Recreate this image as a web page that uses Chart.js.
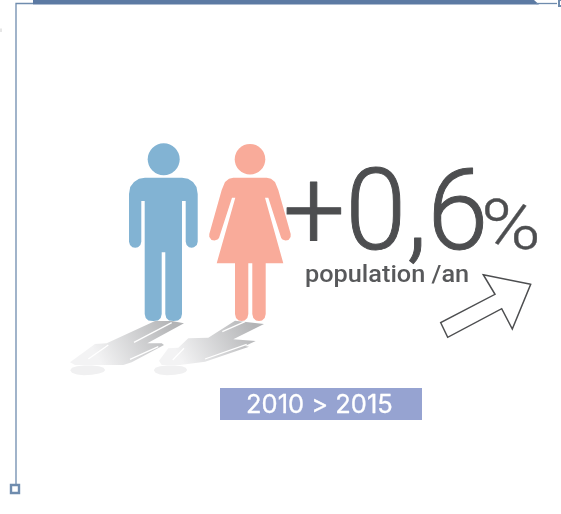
<!DOCTYPE html>
<html>
<head>
<meta charset="utf-8">
<title>Population</title>
<script src="https://cdn.jsdelivr.net/npm/chart.js@4"></script>
<style>
  html, body { margin: 0; padding: 0; background: #fff; }
  canvas { display: block; }
</style>
</head>
<body>
<canvas id="chart" width="561" height="514"></canvas>
<script>
// Texts
const statValue = '+0,6';
const statUnit = '%';
const statLabel = 'population /an';
const periodLabel = '2010 > 2015';

// Outlines, in the units of the chart's two axes
const manHead = [{ x: 163.7, y: 159.3 }];
const womanHead = [{ x: 250, y: 159.3 }];

const manBody = [
  [145, 177.7], [182, 177.7], [188, 178.8], [193, 182], [196.5, 187], [197.7, 194],
  [197.7, 241.7], [196.8, 245], [194, 247.3], [191.7, 247.7], [189, 247.3], [186.6, 245], [185.7, 241.7],
  [185.7, 201], [182, 201], [182, 314], [181, 318], [178, 320.5], [173.6, 321], [169, 320.5], [166.3, 318], [165.3, 314],
  [165.3, 252.3], [161.7, 252.3], [161.7, 314], [160.7, 318], [158, 320.5], [153.2, 321], [148.4, 320.5], [145.7, 318], [144.7, 314],
  [144.7, 201], [141.3, 201], [141.3, 241.7], [140.4, 245], [138, 247.3], [135.2, 247.7], [132.4, 247.3], [130, 245], [129, 241.7],
  [129, 194], [130.2, 187], [134, 182], [139, 178.8]
];

const womanBody = [
  [233.3, 177.7], [266.7, 177.7], [271, 178.8], [275, 182], [278.3, 190],
  [290.7, 234], [290.6, 237], [288.5, 240], [285.5, 240.6], [282.5, 239.5], [281.2, 238],
  [268.3, 197.7], [265, 197.7], [283.3, 263.3], [265.7, 263.3],
  [265.7, 314], [264.7, 318], [262, 320.5], [259, 321], [256, 320.5], [253.3, 318], [252.3, 314],
  [252.3, 263.3], [248.3, 263.3], [248.3, 314], [247.3, 318], [244.6, 320.5], [241.6, 321], [238.6, 320.5], [236, 318], [235, 314],
  [235, 263.3], [216.7, 263.3], [235.3, 197.7], [232, 197.7], [219, 238],
  [217.5, 239.5], [214.5, 240.6], [211.5, 240], [209.4, 237], [209.3, 234],
  [221.7, 190], [225, 182], [229, 178.8]
];

const manShadow = [
  [155, 321], [171.7, 321], [184, 323.3], [147.3, 343.3], [161.7, 343.3], [164, 345], [131.7, 362.3],
  [123.3, 365], [75, 365], [70, 362.3], [95, 344], [106.7, 343.3]
];
const manShadowGaps = [
  [[134, 342.3], [171.7, 322.7]],
  [[130, 359.3], [158.3, 346.7]],
  [[88.3, 359], [108.3, 345]]
];

const womanShadow = [
  [235, 320.7], [264, 324], [233.3, 339.3], [255.7, 341], [245, 346], [249, 346.7], [205, 361.7],
  [180, 365], [161.7, 365], [159, 360.7], [168.3, 348.3], [178.3, 347.7], [188.3, 338.3], [208.3, 337.7]
];
const womanShadowGaps = [
  [[222.3, 331.7], [245, 321.7]],
  [[205, 359], [246.7, 344.3]],
  [[172.7, 360], [184, 348.3]]
];

const manSpot = [
  [70.2, 370.3], [72, 367.8], [77, 366.2], [84, 365.4], [92, 365.4], [99, 366.2], [103.5, 367.8], [105.2, 370],
  [103.5, 372], [99, 373.6], [92, 374.8], [84, 375.3], [77, 374.6], [72, 372.8]
];
const womanSpot = [
  [153.8, 370.3], [155.5, 367.8], [160, 366.2], [167, 365.4], [175, 365.4], [182, 366.2], [185.7, 367.8], [187.2, 370],
  [185.7, 372], [182, 373.6], [175, 374.8], [167, 375.3], [160, 374.6], [155.5, 372.8]
];

const arrowShape = [
  [530.7, 284.3], [483.3, 274.7], [495, 294.3], [440.7, 322.7], [447.7, 337.3], [501.7, 308.7], [512.3, 329]
];

const periodBand = [[220, 388], [422, 388], [422, 420], [220, 420]];
const topBand = [[33, 0], [534, 0], [539, 4.6], [33, 4.6]];
const edgeSmudge = [[0, 28.5], [2, 28.5], [2, 32], [0, 32]];
const frameLines = [
  [[16, 484], [16, 3.5], [33, 3.5]],
  [[536, 3.5], [557, 3.5]]
];
const cornerSquares = [
  [[11, 485], [19, 485], [19, 493], [11, 493]],
  [[559, 0], [559, 6], [564, 6], [564, 0]]
];

const toPoints = list => list.map(p => ({ x: p[0], y: p[1] }));

function shape(list, color) {
  return {
    data: toPoints(list),
    fill: 'shape',
    backgroundColor: color,
    borderColor: 'transparent',
    borderWidth: 0,
    pointRadius: 0
  };
}

function stroke(list, color, width, closed) {
  const data = toPoints(closed ? list.concat([list[0], list[1]]) : list);
  return {
    data: data,
    fill: closed === 'white' ? 'shape' : false,
    backgroundColor: '#fff',
    borderColor: color,
    borderWidth: width,
    borderJoinStyle: 'miter',
    pointRadius: 0
  };
}

function head(point, radius, color) {
  return {
    data: point,
    showLine: false,
    pointRadius: radius,
    pointBackgroundColor: color,
    pointBorderWidth: 0
  };
}

// Grey fade from the feet toward the far end of the shadow
function shadowFill(x0, y0, x1, y1) {
  return context => {
    const { ctx, scales, chartArea } = context.chart;
    if (!chartArea) return '#d0d0d2';
    const px0 = scales.x.getPixelForValue(x0);
    const py0 = scales.y.getPixelForValue(y0);
    const px1 = scales.x.getPixelForValue(x1);
    const py1 = scales.y.getPixelForValue(y1);
    if (!isFinite(px0 + py0 + px1 + py1)) return '#d0d0d2';
    const g = ctx.createLinearGradient(px0, py0, px1, py1);
    g.addColorStop(0, '#b3b4b6');
    g.addColorStop(1, '#f3f3f4');
    return g;
  };
}

const white = '#ffffff';
const frameBlue = '#6f8cae';
const layers = [
  shape(topBand, '#5c7aa3'),
  shape(edgeSmudge, '#e6e6e6'),
  stroke(frameLines[0], frameBlue, 1.3),
  stroke(frameLines[1], frameBlue, 1.3),
  stroke(cornerSquares[0], frameBlue, 2.4, 'white'),
  stroke(cornerSquares[1], frameBlue, 2, 'white'),
  shape(manSpot, '#f0f0f1'),
  shape(womanSpot, '#f0f0f1'),
  shape(manShadow, shadowFill(172, 322, 100, 362)),
  stroke(manShadowGaps[0], white, 1.3),
  stroke(manShadowGaps[1], white, 1.3),
  stroke(manShadowGaps[2], white, 1.3),
  shape(womanShadow, shadowFill(252, 322, 182, 362)),
  stroke(womanShadowGaps[0], white, 1.3),
  stroke(womanShadowGaps[1], white, 1.3),
  stroke(womanShadowGaps[2], white, 1.3),
  shape(manBody, '#82b3d3'),
  head(manHead, 16, '#82b3d3'),
  shape(womanBody, '#f9ab9a'),
  head(womanHead, 15.3, '#f9ab9a'),
  stroke(arrowShape, '#4d4e50', 1.5, 'white'),
  shape(periodBand, '#96a3d1')
];

// Texts are placed through the same scales as the marks
const textPlugin = {
  id: 'texts',
  afterDatasetsDraw(chart) {
    const { ctx, scales } = chart;
    const put = (text, x, y, font, color, scaleX, weight) => {
      ctx.save();
      ctx.translate(scales.x.getPixelForValue(x), scales.y.getPixelForValue(y));
      ctx.scale(scaleX, 1);
      ctx.font = font;
      ctx.fillStyle = color;
      ctx.strokeStyle = color;
      ctx.lineWidth = weight;
      ctx.lineJoin = 'round';
      ctx.textBaseline = 'alphabetic';
      ctx.fillText(text, 0, 0);
      if (weight) ctx.strokeText(text, 0, 0);
      ctx.restore();
    };
    put(statValue, 283, 249, '300 114px Roboto', '#4d4e50', 0.965, 1);
    put(statUnit, 481, 249, '300 71px Roboto', '#4d4e50', 1.14, 0.4);
    put(statLabel, 305, 282, '500 23px Roboto', '#58595b', 1.1, 0);
    put(periodLabel, 246, 413, '400 25px Inter', '#ffffff', 1.02, 0.3);
  }
};

new Chart(document.getElementById('chart'), {
  type: 'line',
  data: { datasets: layers.reverse() },
  options: {
    responsive: false,
    animation: false,
    events: [],
    layout: { padding: 0, autoPadding: false },
    plugins: { legend: { display: false }, tooltip: { enabled: false } },
    scales: {
      x: { type: 'linear', display: false, min: 0, max: 561 },
      y: { type: 'linear', display: false, min: 0, max: 514, reverse: true }
    }
  },
  plugins: [textPlugin]
});
</script>
</body>
</html>
